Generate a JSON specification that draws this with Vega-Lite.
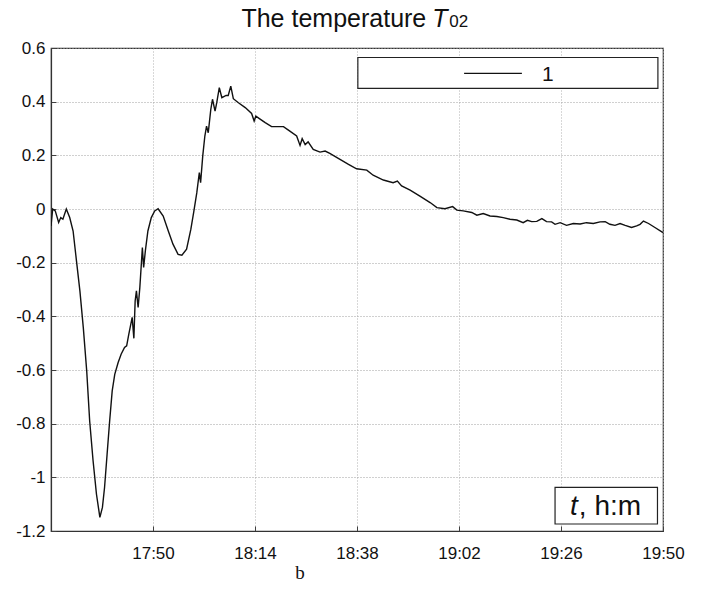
{
  "$schema": "https://vega.github.io/schema/vega-lite/v6.json",
  "width": 612,
  "height": 483,
  "autosize": {"type": "none"},
  "padding": {"left": 51, "top": 48, "right": 39, "bottom": 76},
  "background": "white",
  "config": {"view": {"stroke": "#333333", "strokeWidth": 1.2}, "font": "Liberation Sans"},
  "resolve": {"axis": {"x": "independent", "y": "independent"}},
  "datasets": {
    "one": [{}],
    "temp": [
      {"minute": 1046.0, "temp": -0.063}, {"minute": 1046.4, "temp": 0.0}, {"minute": 1047.0, "temp": -0.007},
      {"minute": 1047.8, "temp": -0.05}, {"minute": 1048.3, "temp": -0.032}, {"minute": 1048.8, "temp": -0.038},
      {"minute": 1049.6, "temp": 0.0}, {"minute": 1050.4, "temp": -0.032}, {"minute": 1051.2, "temp": -0.082},
      {"minute": 1052.0, "temp": -0.194}, {"minute": 1052.8, "temp": -0.305}, {"minute": 1053.6, "temp": -0.442},
      {"minute": 1054.4, "temp": -0.603}, {"minute": 1055.1, "temp": -0.79}, {"minute": 1055.9, "temp": -0.938},
      {"minute": 1056.7, "temp": -1.063}, {"minute": 1057.5, "temp": -1.149}, {"minute": 1058.1, "temp": -1.112},
      {"minute": 1058.6, "temp": -1.038}, {"minute": 1059.2, "temp": -0.914}, {"minute": 1059.8, "temp": -0.79},
      {"minute": 1060.4, "temp": -0.678}, {"minute": 1061.0, "temp": -0.616}, {"minute": 1061.8, "temp": -0.572},
      {"minute": 1062.5, "temp": -0.541}, {"minute": 1063.3, "temp": -0.516}, {"minute": 1063.8, "temp": -0.51},
      {"minute": 1064.3, "temp": -0.467}, {"minute": 1065.1, "temp": -0.404}, {"minute": 1065.5, "temp": -0.482},
      {"minute": 1065.8, "temp": -0.343}, {"minute": 1066.1, "temp": -0.305}, {"minute": 1066.5, "temp": -0.367},
      {"minute": 1066.9, "temp": -0.293}, {"minute": 1067.3, "temp": -0.194}, {"minute": 1067.5, "temp": -0.144},
      {"minute": 1067.8, "temp": -0.218}, {"minute": 1068.2, "temp": -0.156}, {"minute": 1068.8, "temp": -0.082},
      {"minute": 1069.6, "temp": -0.032}, {"minute": 1070.4, "temp": -0.007}, {"minute": 1071.2, "temp": 0.001},
      {"minute": 1072.4, "temp": -0.026}, {"minute": 1073.6, "temp": -0.082}, {"minute": 1074.7, "temp": -0.131},
      {"minute": 1075.9, "temp": -0.169}, {"minute": 1076.8, "temp": -0.172}, {"minute": 1077.9, "temp": -0.15},
      {"minute": 1078.9, "temp": -0.076}, {"minute": 1079.6, "temp": -0.01}, {"minute": 1080.3, "temp": 0.06},
      {"minute": 1080.9, "temp": 0.136}, {"minute": 1081.2, "temp": 0.098}, {"minute": 1081.7, "temp": 0.197},
      {"minute": 1082.2, "temp": 0.272}, {"minute": 1082.6, "temp": 0.309}, {"minute": 1083.0, "temp": 0.284},
      {"minute": 1083.6, "temp": 0.371}, {"minute": 1084.0, "temp": 0.409}, {"minute": 1084.6, "temp": 0.365},
      {"minute": 1085.0, "temp": 0.396}, {"minute": 1085.6, "temp": 0.452}, {"minute": 1086.2, "temp": 0.415},
      {"minute": 1087.2, "temp": 0.423}, {"minute": 1087.7, "temp": 0.423}, {"minute": 1088.3, "temp": 0.458},
      {"minute": 1088.9, "temp": 0.411}, {"minute": 1090.1, "temp": 0.396}, {"minute": 1091.7, "temp": 0.378},
      {"minute": 1093.2, "temp": 0.356}, {"minute": 1093.8, "temp": 0.328}, {"minute": 1094.2, "temp": 0.346},
      {"minute": 1095.2, "temp": 0.335}, {"minute": 1096.4, "temp": 0.322}, {"minute": 1097.9, "temp": 0.307},
      {"minute": 1100.7, "temp": 0.307}, {"minute": 1102.2, "temp": 0.29}, {"minute": 1103.8, "temp": 0.272},
      {"minute": 1104.6, "temp": 0.237}, {"minute": 1105.1, "temp": 0.262}, {"minute": 1105.8, "temp": 0.24},
      {"minute": 1106.5, "temp": 0.25}, {"minute": 1107.7, "temp": 0.222}, {"minute": 1109.3, "temp": 0.212},
      {"minute": 1110.5, "temp": 0.216}, {"minute": 1111.6, "temp": 0.207}, {"minute": 1114.0, "temp": 0.185},
      {"minute": 1116.0, "temp": 0.166}, {"minute": 1117.9, "temp": 0.15}, {"minute": 1120.3, "temp": 0.145},
      {"minute": 1121.8, "temp": 0.126}, {"minute": 1124.2, "temp": 0.108}, {"minute": 1126.5, "temp": 0.098},
      {"minute": 1127.5, "temp": 0.104}, {"minute": 1128.5, "temp": 0.086}, {"minute": 1130.5, "temp": 0.07},
      {"minute": 1132.8, "temp": 0.048}, {"minute": 1135.2, "temp": 0.024}, {"minute": 1136.8, "temp": 0.005},
      {"minute": 1138.7, "temp": 0.001}, {"minute": 1140.5, "temp": 0.009}, {"minute": 1141.5, "temp": -0.004},
      {"minute": 1143.0, "temp": -0.007}, {"minute": 1145.0, "temp": -0.013}, {"minute": 1146.2, "temp": -0.023},
      {"minute": 1147.7, "temp": -0.017}, {"minute": 1149.3, "temp": -0.026}, {"minute": 1150.9, "temp": -0.028},
      {"minute": 1152.4, "temp": -0.032}, {"minute": 1154.0, "temp": -0.038}, {"minute": 1155.6, "temp": -0.041},
      {"minute": 1157.1, "temp": -0.051}, {"minute": 1158.1, "temp": -0.042}, {"minute": 1159.1, "temp": -0.047},
      {"minute": 1160.3, "temp": -0.046}, {"minute": 1161.5, "temp": -0.036}, {"minute": 1162.6, "temp": -0.047},
      {"minute": 1163.8, "temp": -0.048}, {"minute": 1164.6, "temp": -0.057}, {"minute": 1165.8, "temp": -0.051},
      {"minute": 1167.3, "temp": -0.061}, {"minute": 1168.9, "temp": -0.054}, {"minute": 1170.5, "temp": -0.056},
      {"minute": 1172.0, "temp": -0.051}, {"minute": 1173.6, "temp": -0.054}, {"minute": 1175.2, "temp": -0.048},
      {"minute": 1176.4, "temp": -0.047}, {"minute": 1177.5, "temp": -0.057}, {"minute": 1178.7, "temp": -0.061},
      {"minute": 1179.9, "temp": -0.054}, {"minute": 1181.1, "temp": -0.061}, {"minute": 1182.6, "temp": -0.069},
      {"minute": 1183.8, "temp": -0.063}, {"minute": 1184.6, "temp": -0.057}, {"minute": 1185.4, "temp": -0.045},
      {"minute": 1186.6, "temp": -0.054}, {"minute": 1188.1, "temp": -0.069}, {"minute": 1190.0, "temp": -0.088}
    ]
  },
  "layer": [
    {
      "data": {"name": "temp"},
      "mark": {"type": "line", "color": "#111111", "strokeWidth": 1.4, "clip": true},
      "encoding": {
        "x": {
          "field": "minute", "type": "quantitative",
          "scale": {"domain": [1046, 1190], "nice": false, "zero": false},
          "axis": {
            "orient": "bottom", "title": null,
            "values": [1070, 1094, 1118, 1142, 1166, 1190],
            "labelExpr": "floor(datum.value/60) + ':' + (datum.value % 60 < 10 ? '0' : '') + (datum.value % 60)",
            "grid": true, "gridColor": "#b0b0b0", "gridDash": [1, 2], "gridWidth": 1,
            "tickSize": -5, "tickColor": "#404040", "domainColor": "#333333", "domainWidth": 1.2,
            "labelFont": "Liberation Sans", "labelFontSize": 17, "labelColor": "#111111",
            "labelPadding": 19, "labelFlush": false, "labelOverlap": false
          }
        },
        "y": {
          "field": "temp", "type": "quantitative",
          "scale": {"domain": [-1.2, 0.6], "nice": false, "zero": false},
          "axis": {
            "orient": "left", "title": null,
            "values": [-1.2, -1, -0.8, -0.6, -0.4, -0.2, 0, 0.2, 0.4, 0.6],
            "labelExpr": "'' + (round(datum.value * 10) / 10)",
            "grid": true, "gridColor": "#a0a0a0", "gridDash": [1, 2], "gridWidth": 1,
            "tickSize": -5, "tickColor": "#404040", "domainColor": "#333333", "domainWidth": 1.2,
            "labelFont": "Liberation Sans", "labelFontSize": 17, "labelColor": "#111111",
            "labelPadding": 11, "labelFlush": false, "labelOverlap": false
          }
        }
      }
    },
    {
      "data": {"name": "one"},
      "mark": {"type": "rect", "fill": "white", "stroke": "#222222", "strokeWidth": 1.2},
      "encoding": {
        "x": {"datum": 1118.2, "type": "quantitative", "scale": {"domain": [1046, 1190], "nice": false, "zero": false}, "axis": null},
        "x2": {"datum": 1188.8},
        "y": {"datum": 0.5646, "type": "quantitative", "scale": {"domain": [-1.2, 0.6], "nice": false, "zero": false}, "axis": null},
        "y2": {"datum": 0.4499}
      }
    },
    {
      "data": {"name": "one"},
      "mark": {"type": "rule", "color": "#111111", "strokeWidth": 1.2},
      "encoding": {
        "x": {"datum": 1143.2, "type": "quantitative", "scale": {"domain": [1046, 1190], "nice": false, "zero": false}, "axis": null},
        "x2": {"datum": 1156.8},
        "y": {"datum": 0.5058, "type": "quantitative", "scale": {"domain": [-1.2, 0.6], "nice": false, "zero": false}, "axis": null}
      }
    },
    {
      "data": {"name": "one"},
      "mark": {"type": "text", "text": "1", "align": "center", "baseline": "alphabetic", "fontSize": 21, "font": "Liberation Sans", "color": "#111111"},
      "encoding": {
        "x": {"datum": 1162.9, "type": "quantitative", "scale": {"domain": [1046, 1190], "nice": false, "zero": false}, "axis": null},
        "y": {"datum": 0.476, "type": "quantitative", "scale": {"domain": [-1.2, 0.6], "nice": false, "zero": false}, "axis": null}
      }
    },
    {
      "data": {"name": "one"},
      "mark": {"type": "rect", "fill": "white", "stroke": "#222222", "strokeWidth": 1.2},
      "encoding": {
        "x": {"datum": 1164.6, "type": "quantitative", "scale": {"domain": [1046, 1190], "nice": false, "zero": false}, "axis": null},
        "x2": {"datum": 1188.7},
        "y": {"datum": -1.0376, "type": "quantitative", "scale": {"domain": [-1.2, 0.6], "nice": false, "zero": false}, "axis": null},
        "y2": {"datum": -1.174}
      }
    },
    {
      "data": {"name": "one"},
      "mark": {"type": "text", "text": "t", "align": "left", "baseline": "alphabetic", "fontSize": 28, "fontStyle": "italic", "font": "Liberation Sans", "color": "#111111"},
      "encoding": {
        "x": {"datum": 1168.1, "type": "quantitative", "scale": {"domain": [1046, 1190], "nice": false, "zero": false}, "axis": null},
        "y": {"datum": -1.141, "type": "quantitative", "scale": {"domain": [-1.2, 0.6], "nice": false, "zero": false}, "axis": null}
      }
    },
    {
      "data": {"name": "one"},
      "mark": {"type": "text", "text": ", h:m", "align": "left", "baseline": "alphabetic", "fontSize": 28, "font": "Liberation Sans", "color": "#111111"},
      "encoding": {
        "x": {"datum": 1170.2, "type": "quantitative", "scale": {"domain": [1046, 1190], "nice": false, "zero": false}, "axis": null},
        "y": {"datum": -1.141, "type": "quantitative", "scale": {"domain": [-1.2, 0.6], "nice": false, "zero": false}, "axis": null}
      }
    },
    {
      "data": {"name": "one"},
      "mark": {"type": "text", "text": "The temperature", "align": "right", "baseline": "alphabetic", "fontSize": 25, "font": "Liberation Sans", "color": "#111111"},
      "encoding": {
        "x": {"datum": 1134.3, "type": "quantitative", "scale": {"domain": [1046, 1190], "nice": false, "zero": false}, "axis": null},
        "y": {"datum": 0.677, "type": "quantitative", "scale": {"domain": [-1.2, 0.6], "nice": false, "zero": false}, "axis": null}
      }
    },
    {
      "data": {"name": "one"},
      "mark": {"type": "text", "text": "T", "align": "left", "baseline": "alphabetic", "fontSize": 25, "fontStyle": "italic", "font": "Liberation Sans", "color": "#111111"},
      "encoding": {
        "x": {"datum": 1135.7, "type": "quantitative", "scale": {"domain": [1046, 1190], "nice": false, "zero": false}, "axis": null},
        "y": {"datum": 0.677, "type": "quantitative", "scale": {"domain": [-1.2, 0.6], "nice": false, "zero": false}, "axis": null}
      }
    },
    {
      "data": {"name": "one"},
      "mark": {"type": "text", "text": "02", "align": "left", "baseline": "alphabetic", "fontSize": 17, "font": "Liberation Sans", "color": "#111111"},
      "encoding": {
        "x": {"datum": 1139.7, "type": "quantitative", "scale": {"domain": [1046, 1190], "nice": false, "zero": false}, "axis": null},
        "y": {"datum": 0.677, "type": "quantitative", "scale": {"domain": [-1.2, 0.6], "nice": false, "zero": false}, "axis": null}
      }
    },
    {
      "data": {"name": "one"},
      "mark": {"type": "text", "text": "b", "align": "center", "baseline": "alphabetic", "fontSize": 19, "font": "Liberation Serif", "color": "#111111"},
      "encoding": {
        "x": {"datum": 1104.6, "type": "quantitative", "scale": {"domain": [1046, 1190], "nice": false, "zero": false}, "axis": null},
        "y": {"datum": -1.379, "type": "quantitative", "scale": {"domain": [-1.2, 0.6], "nice": false, "zero": false}, "axis": null}
      }
    }
  ]
}
